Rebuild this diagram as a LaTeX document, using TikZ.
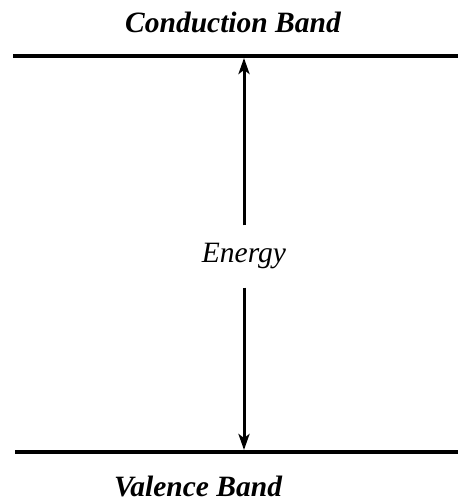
\documentclass[tikz,border=0pt]{standalone}
\usepackage{fontspec}
\setmainfont{Liberation Serif}
\usepackage{tikz}
\usetikzlibrary{positioning,arrows.meta}
\tikzset{
  band/.style={line width=4pt},
  bandlabel/.style={font=\fontsize{29.5}{32}\selectfont\bfseries\itshape, inner sep=0pt},
  gaparrow/.style={line width=3pt, -{Stealth[length=16pt,width=11pt,inset=4pt]}}
}

\begin{document}
\begin{tikzpicture}[x=1pt,y=-1pt]
    \useasboundingbox (0,0) rectangle (458,502);
    \coordinate (cbleft) at (13,56);
    \coordinate (cbright) at (458,56);
    \coordinate (vbleft) at (15,452);
    \coordinate (vbright) at (458,452);
    \draw[band] (cbleft) -- (cbright);
    \draw[band] (vbleft) -- (vbright);
    \node[bandlabel] (cb) at (233,22) {Conduction Band};
    \node[bandlabel] (vb) at (198,486) {Valence Band};
    \node[font=\fontsize{29.5}{32}\selectfont\itshape, inner xsep=0pt, inner ysep=18pt] (energy) at (244,256.5) {Energy};
    \coordinate (cbtip) at (244,58);
    \coordinate (vbtip) at (244,450);
    \draw[gaparrow] (energy) -- (cbtip);
    \draw[gaparrow] (energy) -- (vbtip);
  \end{tikzpicture}
\end{document}
